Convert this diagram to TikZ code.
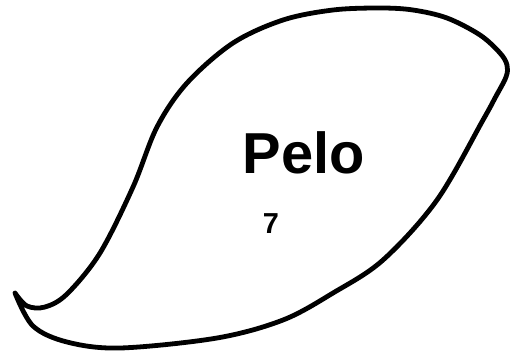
\documentclass[tikz,border=0pt]{standalone}
\usepackage{fontspec}
\setmainfont{Liberation Sans}
\begin{document}
\begin{tikzpicture}[x=1bp,y=-1bp,
  leaf/.style={line width=4.8bp, line cap=round, line join=round},
  bigtxt/.style={font=\bfseries\fontsize{58}{60}\selectfont, inner sep=0pt, anchor=base},
  smalltxt/.style={font=\bfseries\fontsize{29}{31}\selectfont, inner sep=0pt, anchor=base}]
\useasboundingbox (0,0) rectangle (519,351);
\draw[leaf] plot[smooth, tension=0.55] coordinates {
  (15,293) (33,326) (67,342) (120,348) (217,338) (283,320) (333,293)
  (383,260) (437,200) (483,120) (495,98) (506,77) (507,65) (500,53)
  (480,35) (447,18) (413,10) (380,8) (333,10) (283,20) (233,43)
  (187,83) (157,127) (133,187) (100,253) (67,294) (45,307) (27,306) (15,293)};
\node[bigtxt] (pelo) at (304,173) {Pelo};
\node[smalltxt] (seven) at (271,233) {7};
\end{tikzpicture}
\end{document}
